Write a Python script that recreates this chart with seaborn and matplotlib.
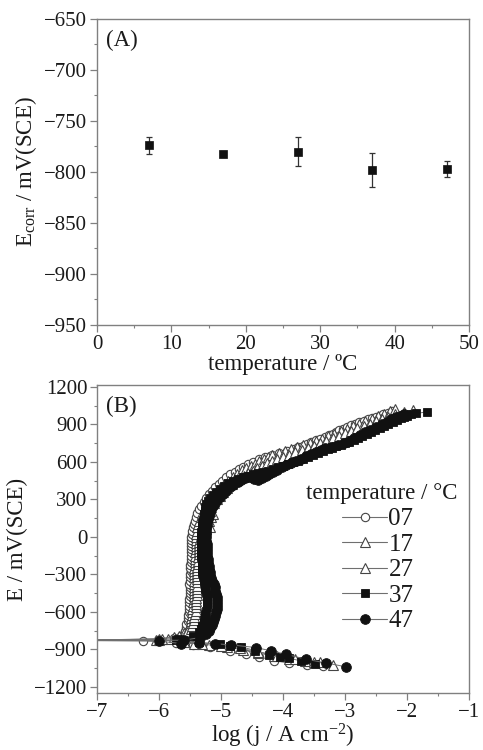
import matplotlib
matplotlib.use("Agg")
import matplotlib.pyplot as plt
import pandas as pd
import seaborn as sns
from matplotlib.lines import Line2D
from matplotlib.ticker import MultipleLocator

# ---------------- data ----------------
# (A) corrosion potential vs temperature
temperature = [7, 17, 27, 37, 47]
e_corr = [-774, -782, -780, -798, -797]
e_corr_err = [8, 3, 14, 17, 8]

# (B) polarization curves: log j (A cm-2) and E (mV vs SCE)
# cathodic branch (from the most negative potential up to Ecorr) and anodic branch (Ecorr upwards)
logj_07_cath = [-3.35, -3.62, -3.90, -4.14, -4.38, -4.59, -4.86, -5.17, -5.45, -5.72, -6.26, -7.40]
e_07_cath = [-1033, -1022, -1012, -990, -962, -938, -912, -880, -862, -848, -830, -830]
logj_07_anod = [-7.40, -6.02, -5.75, -5.64,
                -5.60, -5.58, -5.57, -5.56, -5.54, -5.54, -5.53, -5.52, -5.52, -5.51,
                -5.51, -5.51, -5.50, -5.50, -5.50, -5.50, -5.51, -5.50, -5.50, -5.50,
                -5.49, -5.50, -5.50, -5.49, -5.49, -5.49, -5.49, -5.49, -5.49, -5.48,
                -5.48, -5.48, -5.47, -5.46, -5.45, -5.44,
                -5.42, -5.40, -5.38, -5.35, -5.32, -5.28, -5.24, -5.20, -5.15, -5.09,
                -5.04, -4.98, -4.92, -4.85, -4.78, -4.71, -4.64, -4.56, -4.48, -4.39,
                -4.29, -4.18, -4.06, -3.94, -3.82, -3.75, -3.68, -3.62, -3.55, -3.47,
                -3.40, -3.33, -3.25, -3.20, -3.14, -3.09, -3.04, -2.97, -2.90, -2.84,
                -2.77, -2.70, -2.63, -2.57, -2.50, -2.44, -2.38, -2.31, -2.24]
e_07_anod = [-830, -828, -810, -790,
             -775, -750, -725, -700, -675, -650, -625, -600, -575, -550,
             -525, -500, -475, -450, -425, -400, -375, -350, -325, -300,
             -275, -250, -225, -200, -175, -150, -125, -100, -75, -50,
             -25, 0, 25, 50, 75, 100,
             130, 160, 190, 220, 250, 280, 310, 340, 370, 400,
             425, 450, 475, 500, 520, 540, 560, 580, 600, 620,
             640, 656, 671, 688, 705, 718, 730, 745, 759, 772,
             785, 798, 812, 826, 840, 853, 866, 880, 893, 906,
             919, 930, 940, 950, 960, 970, 980, 992, 1005]

logj_17_cath = [-3.40, -3.65, -3.90, -4.15, -4.40, -4.65, -4.90, -5.20, -5.44, -5.85, -6.00, -7.40]
e_17_cath = [-1005, -992, -975, -955, -930, -905, -882, -862, -854, -820, -820, -830]
logj_17_anod = [-7.40, -6.05, -5.75, -5.60,
                -5.52, -5.51, -5.50, -5.49, -5.48, -5.47, -5.46, -5.46, -5.45, -5.45,
                -5.44, -5.44, -5.44, -5.44, -5.43, -5.44, -5.43, -5.43, -5.43, -5.43,
                -5.43, -5.42, -5.42, -5.42, -5.42, -5.42, -5.41, -5.41, -5.41, -5.41,
                -5.40, -5.40, -5.39, -5.38, -5.37,
                -5.35, -5.33, -5.30, -5.27, -5.24, -5.19, -5.14, -5.08, -5.01, -4.95,
                -4.88, -4.81, -4.74, -4.66, -4.59, -4.52, -4.45, -4.38, -4.31, -4.24,
                -4.17, -4.07, -3.97, -3.87, -3.77, -3.67, -3.57, -3.47, -3.37, -3.27,
                -3.17, -3.07, -2.97, -2.87, -2.77, -2.67, -2.57, -2.47, -2.37, -2.28,
                -2.20]
e_17_anod = [-830, -822, -800, -770,
             -750, -725, -700, -675, -650, -625, -600, -575, -550, -525,
             -500, -475, -450, -425, -400, -375, -350, -325, -300, -275,
             -250, -225, -200, -175, -150, -125, -100, -75, -50, -25,
             0, 25, 50, 75, 100,
             130, 160, 190, 220, 250, 285, 320, 355, 390, 420,
             450, 478, 505, 532, 550, 568, 585, 605, 625, 640,
             655, 670, 685, 700, 715, 732, 750, 768, 785, 805,
             825, 845, 865, 885, 905, 925, 945, 965, 985, 1005,
             1026]

logj_27_cath = [-3.20, -3.50, -3.80, -4.10, -4.40, -4.70, -5.00, -5.30, -5.60, -6.00, -7.40]
e_27_cath = [-1022, -1000, -975, -950, -920, -893, -873, -860, -845, -822, -830]
logj_27_anod = [-7.40, -5.95, -5.68, -5.55,
                -5.48, -5.46, -5.45, -5.44, -5.43, -5.42, -5.41, -5.41, -5.40, -5.40,
                -5.40, -5.39, -5.39, -5.39, -5.39, -5.38, -5.38, -5.38, -5.38, -5.38,
                -5.38, -5.37, -5.37, -5.37, -5.36, -5.36, -5.36, -5.35, -5.35, -5.34,
                -5.33, -5.30, -5.24, -5.18, -5.24, -5.20, -5.16, -5.13, -5.18, -5.16,
                -5.12, -5.07, -5.02, -4.96, -4.90, -4.83, -4.77, -4.70, -4.63, -4.56,
                -4.49, -4.42, -4.34, -4.26, -4.18, -4.10, -4.00, -3.90, -3.80, -3.70,
                -3.60, -3.50, -3.40, -3.30, -3.20, -3.10, -3.00, -2.90, -2.80, -2.70,
                -2.60, -2.50, -2.40, -2.30, -2.20, -2.05, -1.91]
e_27_anod = [-830, -815, -790, -765,
             -740, -715, -690, -665, -640, -615, -590, -565, -540, -515,
             -490, -465, -440, -415, -390, -365, -340, -315, -290, -265,
             -240, -215, -190, -165, -140, -115, -90, -65, -40, -15,
             10, 35, 60, 76, 100, 130, 160, 184, 210, 240,
             270, 300, 330, 360, 390, 420, 445, 468, 490, 510,
             530, 550, 570, 588, 605, 622, 640, 657, 675, 692,
             710, 730, 750, 770, 790, 810, 830, 850, 870, 888,
             905, 925, 945, 962, 980, 997, 1013]

logj_37_cath = [-3.49, -3.71, -3.90, -4.05, -4.22, -4.45, -4.67, -4.85, -5.01, -5.35, -5.72, -7.40]
e_37_cath = [-1020, -993, -972, -958, -945, -910, -881, -870, -860, -845, -827, -830]
logj_37_anod = [-7.40, -5.70, -5.45, -5.36,
                -5.32, -5.30, -5.28, -5.27, -5.26, -5.25, -5.24, -5.23, -5.23, -5.23,
                -5.23, -5.23, -5.24, -5.25, -5.26, -5.27, -5.28, -5.29, -5.30, -5.30,
                -5.31, -5.31, -5.31, -5.32, -5.32, -5.32, -5.32, -5.32, -5.32, -5.32,
                -5.32, -5.32, -5.31, -5.31, -5.30, -5.29, -5.28, -5.27, -5.26, -5.25,
                -5.24, -5.21, -5.17, -5.13, -5.08, -5.02, -4.95, -4.88, -4.80, -4.72,
                -4.64, -4.56, -4.48, -4.40, -4.32, -4.24, -4.16, -4.08, -4.00, -3.92,
                -3.84, -3.76, -3.68, -3.60, -3.52, -3.44, -3.36, -3.28, -3.21, -3.14,
                -3.07, -3.00, -2.93, -2.86, -2.79, -2.72, -2.65, -2.58, -2.51, -2.44,
                -2.37, -2.30, -2.23, -2.16, -2.10, -2.05, -2.00, -1.93, -1.86, -1.67]
e_37_anod = [-830, -815, -790, -760,
             -740, -715, -690, -665, -640, -615, -590, -565, -540, -515,
             -490, -465, -440, -415, -390, -365, -340, -315, -290, -265,
             -240, -215, -190, -165, -140, -115, -90, -65, -40, -15,
             10, 35, 60, 85, 110, 135, 160, 185, 210, 235,
             260, 285, 310, 335, 360, 385, 410, 430, 450, 465,
             478, 490, 500, 510, 520, 530, 542, 555, 568, 582,
             596, 610, 625, 640, 655, 670, 685, 700, 712, 724,
             736, 748, 762, 776, 790, 806, 822, 838, 855, 872,
             888, 904, 920, 935, 948, 960, 970, 980, 987, 1000]

logj_47_cath = [-2.98, -3.30, -3.63, -3.95, -4.19, -4.44, -4.84, -5.10, -5.35, -5.64, -6.00, -7.40]
e_47_cath = [-1041, -1010, -980, -940, -913, -886, -865, -855, -850, -854, -835, -830]
logj_47_anod = [-7.40, -5.60, -5.34, -5.24,
                -5.20, -5.18, -5.15, -5.13, -5.11, -5.09, -5.08, -5.07, -5.07, -5.07,
                -5.07, -5.07, -5.08, -5.09, -5.10, -5.12, -5.14, -5.16, -5.17, -5.18,
                -5.19, -5.20, -5.21, -5.21, -5.22, -5.22, -5.23, -5.23, -5.23, -5.24,
                -5.24, -5.24, -5.24, -5.24, -5.23, -5.22, -5.21, -5.20, -5.18, -5.16,
                -5.13, -5.10, -5.06, -5.02, -4.97, -4.92, -4.86, -4.80, -4.73, -4.67,
                -4.62, -4.58, -4.54, -4.46, -4.40, -4.34, -4.28, -4.22, -4.16, -4.09,
                -4.02, -3.95, -3.87, -3.79, -3.71, -3.63, -3.55, -3.47, -3.39, -3.32,
                -3.22, -3.11, -3.02, -2.94, -2.85, -2.76, -2.68, -2.59, -2.50, -2.41,
                -2.32, -2.25, -2.18, -2.11, -2.05]
e_47_anod = [-830, -828, -806, -780,
             -755, -730, -705, -680, -655, -630, -605, -580, -555, -530,
             -505, -480, -455, -430, -405, -380, -355, -330, -305, -280,
             -255, -230, -205, -180, -155, -130, -105, -80, -55, -30,
             -5, 20, 45, 70, 95, 120, 145, 170, 195, 220,
             245, 270, 295, 320, 345, 370, 395, 418, 440, 458,
             470, 478, 482, 465, 455, 470, 490, 505, 520, 538,
             555, 572, 590, 608, 626, 644, 662, 680, 698, 712,
             718, 735, 752, 770, 790, 812, 835, 857, 880, 900,
             922, 940, 955, 970, 986]

series_labels = ["07", "17", "27", "37", "47"]
legend_title = "temperature / °C"
series_logj = [logj_07_cath + logj_07_anod, logj_17_cath + logj_17_anod,
               logj_27_cath + logj_27_anod, logj_37_cath + logj_37_anod,
               logj_47_cath + logj_47_anod]
series_e = [e_07_cath + e_07_anod, e_17_cath + e_17_anod,
            e_27_cath + e_27_anod, e_37_cath + e_37_anod,
            e_47_cath + e_47_anod]

# ---------------- style ----------------
sns.set_theme(style="ticks")
plt.rcParams["font.family"] = ["Liberation Serif", "DejaVu Serif"]
plt.rcParams["mathtext.fontset"] = "custom"
plt.rcParams["mathtext.rm"] = "Liberation Serif"
plt.rcParams["mathtext.it"] = "Liberation Serif:italic"
plt.rcParams["axes.unicode_minus"] = True

text_c = "#1a1a1a"
frame_c = "#808080"
line_c = "#6f6f6f"
tick_fs = 15
label_fs = 16.5

marker_styles = {
    "07": dict(marker="o", markersize=6.0, markerfacecolor="white", markeredgecolor="#444444", markeredgewidth=0.8),
    "17": dict(marker="^", markersize=6.5, markerfacecolor="white", markeredgecolor="#444444", markeredgewidth=0.8),
    "27": dict(marker="^", markersize=6.5, markerfacecolor="white", markeredgecolor="#444444", markeredgewidth=0.8),
    "37": dict(marker="s", markersize=6.0, markerfacecolor="#111111", markeredgecolor="#111111", markeredgewidth=0.6),
    "47": dict(marker="o", markersize=7.0, markerfacecolor="#111111", markeredgecolor="#111111", markeredgewidth=0.6),
}

fig = plt.figure(figsize=(4.83, 7.5), dpi=100)
ax_a = fig.add_axes([0.2008, 0.5667, 0.7702, 0.408])
ax_b = fig.add_axes([0.2008, 0.076, 0.7702, 0.4107])


def style_axes(ax):
    for side in ["left", "bottom", "top", "right"]:
        ax.spines[side].set_visible(True)
        ax.spines[side].set_color(frame_c)
        ax.spines[side].set_linewidth(1.0)
    ax.tick_params(which="major", direction="out", length=5, width=0.9, color=frame_c,
                   labelsize=tick_fs, labelcolor=text_c, pad=2, top=False, right=False)
    ax.tick_params(which="minor", direction="out", length=2.5, width=0.8, color=frame_c,
                   top=False, right=False)
    ax.set_facecolor("white")


# ---------------- (A) ----------------
df_a = pd.DataFrame({"temperature": temperature, "E": e_corr, "err": e_corr_err})
ax_a.errorbar(df_a["temperature"], df_a["E"], yerr=df_a["err"], fmt="none",
              ecolor="#333333", elinewidth=0.9, capsize=2.5, capthick=0.9, zorder=2)
sns.scatterplot(data=df_a, x="temperature", y="E", marker="s", s=36, color="#111111",
                edgecolor="#111111", linewidth=0.5, ax=ax_a, zorder=3, legend=False)
ax_a.set_xlim(0, 50)
ax_a.set_ylim(-950, -650)
ax_a.xaxis.set_major_locator(MultipleLocator(10))
ax_a.xaxis.set_minor_locator(MultipleLocator(5))
ax_a.yaxis.set_major_locator(MultipleLocator(50))
ax_a.yaxis.set_minor_locator(MultipleLocator(25))
style_axes(ax_a)
ax_a.set_xlabel("temperature / ºC", fontsize=label_fs, color=text_c, labelpad=0)
ax_a.set_ylabel(r"E$_{\mathrm{corr}}$ / mV(SCE)", fontsize=label_fs, color=text_c, labelpad=4)
ax_a.text(0.025, 0.965, "(A)", transform=ax_a.transAxes, ha="left", va="top",
          fontsize=label_fs, color=text_c)

# ---------------- (B) ----------------
for lab, xs, ys in zip(series_labels, series_logj, series_e):
    df = pd.DataFrame({"logj": xs, "E": ys})
    sns.lineplot(data=df, x="logj", y="E", sort=False, estimator=None, ax=ax_b,
                 color=line_c, linewidth=0.7, legend=False, **marker_styles[lab])

ax_b.set_xlim(-7, -1)
ax_b.set_ylim(-1250, 1215)
ax_b.xaxis.set_major_locator(MultipleLocator(1))
ax_b.xaxis.set_minor_locator(MultipleLocator(0.5))
ax_b.yaxis.set_major_locator(MultipleLocator(300))
ax_b.yaxis.set_minor_locator(MultipleLocator(150))
style_axes(ax_b)
ax_b.set_xlabel(r"log (j / A cm$^{\mathrm{-2}}$)", fontsize=label_fs, color=text_c, labelpad=0)
ax_b.set_ylabel("E / mV(SCE)", fontsize=label_fs, color=text_c, labelpad=4)
ax_b.text(0.025, 0.965, "(B)", transform=ax_b.transAxes, ha="left", va="top",
          fontsize=label_fs, color=text_c)

# legend: title line set as its own text, entries underneath
ax_b.text(0.562, 0.649, legend_title, transform=ax_b.transAxes, ha="left", va="center",
          fontsize=16.5, color=text_c)
handles = [Line2D([0], [0], color=line_c, linewidth=0.8, **marker_styles[lab]) for lab in series_labels]
leg = ax_b.legend(handles, series_labels, loc="upper left",
                  bbox_to_anchor=(0.659, 0.601), frameon=False, fontsize=18,
                  handlelength=1.8, handletextpad=0.05, labelspacing=0.12,
                  borderpad=0.0, borderaxespad=0.0)
for t in leg.get_texts():
    t.set_color(text_c)

fig.savefig("out.png", dpi=100, facecolor="white")
